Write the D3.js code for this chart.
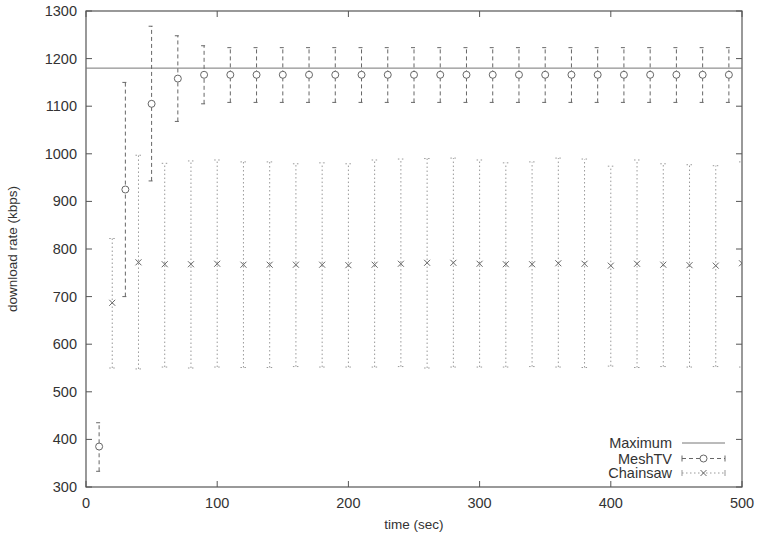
<!DOCTYPE html>
<html lang="en">
  <head>
    <meta charset="UTF-8" />
    <title>download rate</title>
    <script src="https://cdn.jsdelivr.net/npm/d3@7"></script>
    <style>
      body {
        margin: 0;
        padding: 0;
        background: #fff;
      }
      text {
        font-family: "Liberation Sans", Arial, sans-serif;
        fill: #333;
      }
    </style>
  </head>
  <body>
    <svg id="chart"></svg>

    <script>
      // MeshTV: mean and min/max per sample (kbps)
      const meshTime = [10, 30, 50, 70, 90, 110, 130, 150, 170, 190, 210, 230, 250,
        270, 290, 310, 330, 350, 370, 390, 410, 430, 450, 470, 490];
      const meshMean = [385, 925, 1105, 1158, 1166, 1166, 1166, 1166, 1166, 1166, 1166,
        1166, 1166, 1166, 1166, 1166, 1166, 1166, 1166, 1166, 1166, 1166, 1166, 1166, 1166];
      const meshLow = [333, 700, 943, 1068, 1105, 1108, 1108, 1108, 1108, 1108, 1108,
        1108, 1108, 1108, 1108, 1108, 1108, 1108, 1108, 1108, 1108, 1108, 1108, 1108, 1108];
      const meshHigh = [435, 1150, 1268, 1248, 1227, 1223, 1223, 1223, 1223, 1223, 1223,
        1223, 1223, 1223, 1223, 1223, 1223, 1223, 1223, 1223, 1223, 1223, 1223, 1223, 1223];

      // Chainsaw
      const chainTime = [20, 40, 60, 80, 100, 120, 140, 160, 180, 200, 220, 240, 260,
        280, 300, 320, 340, 360, 380, 400, 420, 440, 460, 480, 500];
      const chainMean = [687, 772, 768, 768, 769, 767, 767, 767, 767, 766, 767, 769, 771,
        771, 769, 768, 768, 770, 769, 765, 769, 767, 766, 765, 770];
      const chainLow = [550, 548, 552, 550, 552, 551, 551, 553, 552, 552, 552, 553, 550,
        552, 552, 552, 553, 552, 551, 554, 551, 553, 552, 553, 552];
      const chainHigh = [822, 997, 980, 985, 987, 983, 983, 979, 981, 979, 987, 989, 990,
        991, 987, 981, 983, 991, 989, 974, 987, 979, 977, 975, 983];

      const maximum = 1180;

      const xTicks = [0, 100, 200, 300, 400, 500];
      const yTicks = [300, 400, 500, 600, 700, 800, 900, 1000, 1100, 1200, 1300];

      const W = 758, H = 540;
      const m = { left: 86, right: 16, top: 11, bottom: 53 };

      const svg = d3.select("#chart").attr("width", W).attr("height", H);

      const x = d3.scaleLinear().domain([0, 500]).range([m.left, W - m.right]);
      const y = d3.scaleLinear().domain([300, 1300]).range([H - m.bottom, m.top]);

      const axisColor = "#555";
      const fs = "14.5px";
      const g = svg.append("g");

      // ticks drawn inward on all four sides
      const tickLen = 6;
      xTicks.forEach((t) => {
        g.append("line").attr("x1", x(t)).attr("x2", x(t))
          .attr("y1", y(300)).attr("y2", y(300) - tickLen).attr("stroke", axisColor);
        g.append("line").attr("x1", x(t)).attr("x2", x(t))
          .attr("y1", y(1300)).attr("y2", y(1300) + tickLen).attr("stroke", axisColor);
        g.append("text").attr("x", x(t)).attr("y", y(300) + 21)
          .attr("text-anchor", "middle").attr("font-size", fs).text(t);
      });
      yTicks.forEach((t) => {
        g.append("line").attr("x1", x(0)).attr("x2", x(0) + tickLen)
          .attr("y1", y(t)).attr("y2", y(t)).attr("stroke", axisColor);
        g.append("line").attr("x1", x(500)).attr("x2", x(500) - tickLen)
          .attr("y1", y(t)).attr("y2", y(t)).attr("stroke", axisColor);
        g.append("text").attr("x", x(0) - 9).attr("y", y(t) + 5)
          .attr("text-anchor", "end").attr("font-size", fs).text(t);
      });

      g.append("rect")
        .attr("x", x(0)).attr("y", y(1300))
        .attr("width", x(500) - x(0)).attr("height", y(300) - y(1300))
        .attr("fill", "none").attr("stroke", axisColor).attr("stroke-width", 1.2);

      // axis titles
      svg.append("text").attr("x", (x(0) + x(500)) / 2).attr("y", H - 11)
        .attr("text-anchor", "middle").attr("font-size", "13.5px").text("time (sec)");
      svg.append("text")
        .attr("transform", `translate(17,${(y(300) + y(1300)) / 2}) rotate(-90)`)
        .attr("text-anchor", "middle").attr("font-size", "13.5px").text("download rate (kbps)");

      // Maximum line
      g.append("line").attr("x1", x(0)).attr("x2", x(500))
        .attr("y1", y(maximum)).attr("y2", y(maximum))
        .attr("stroke", "#777").attr("stroke-width", 1);

      svg.append("clipPath").attr("id", "clip")
        .append("rect").attr("x", x(0)).attr("y", y(1300))
        .attr("width", x(500) - x(0)).attr("height", y(300) - y(1300));

      const plot = svg.append("g").attr("clip-path", "url(#clip)");

      function errorBars(times, mean, low, high, color, dash, capW) {
        const data = times.map((t, i) => ({ t, mean: mean[i], low: low[i], high: high[i] }));
        const grp = plot.append("g");
        grp.selectAll(".bar").data(data).enter().append("line")
          .attr("x1", (d) => x(d.t)).attr("x2", (d) => x(d.t))
          .attr("y1", (d) => y(d.low)).attr("y2", (d) => y(d.high))
          .attr("stroke", color).attr("stroke-dasharray", dash);
        ["low", "high"].forEach((k) => {
          grp.selectAll(".cap" + k).data(data).enter().append("line")
            .attr("x1", (d) => x(d.t) - capW).attr("x2", (d) => x(d.t) + capW)
            .attr("y1", (d) => y(d[k])).attr("y2", (d) => y(d[k]))
            .attr("stroke", color).attr("stroke-dasharray", dash);
        });
        return { grp, data };
      }

      const mesh = errorBars(meshTime, meshMean, meshLow, meshHigh, "#666", "4,3", 3);
      mesh.grp.selectAll("circle").data(mesh.data).enter().append("circle")
        .attr("cx", (d) => x(d.t)).attr("cy", (d) => y(d.mean)).attr("r", 3.5)
        .attr("fill", "#fff").attr("stroke", "#666");

      const chain = errorBars(chainTime, chainMean, chainLow, chainHigh, "#999", "1.5,2.5", 3);
      chain.grp.selectAll(".cross").data(chain.data).enter().append("path")
        .attr("d", (d) => {
          const cx = x(d.t), cy = y(d.mean), s = 3;
          return `M${cx - s},${cy - s}L${cx + s},${cy + s}M${cx - s},${cy + s}L${cx + s},${cy - s}`;
        })
        .attr("stroke", "#666").attr("stroke-width", 1);

      // legend
      const lg = svg.append("g");
      const lx = 672, ly = [443, 458.5, 473];
      const names = ["Maximum", "MeshTV", "Chainsaw"];
      names.forEach((n, i) => {
        lg.append("text").attr("x", lx).attr("y", ly[i] + 5)
          .attr("text-anchor", "end").attr("font-size", fs).text(n);
      });
      lg.append("line").attr("x1", 682).attr("x2", 725).attr("y1", ly[0]).attr("y2", ly[0])
        .attr("stroke", "#777");
      [[1, "#666", "4,3"], [2, "#999", "1.5,2.5"]].forEach(([i, c, d]) => {
        lg.append("line").attr("x1", 682).attr("x2", 725).attr("y1", ly[i]).attr("y2", ly[i])
          .attr("stroke", c).attr("stroke-dasharray", d);
        [682, 725].forEach((px) => {
          lg.append("line").attr("x1", px).attr("x2", px)
            .attr("y1", ly[i] - 3).attr("y2", ly[i] + 3).attr("stroke", c);
        });
      });
      lg.append("circle").attr("cx", 703.5).attr("cy", ly[1]).attr("r", 3.5)
        .attr("fill", "#fff").attr("stroke", "#666");
      lg.append("path")
        .attr("d", `M700.5,${ly[2] - 3}L706.5,${ly[2] + 3}M700.5,${ly[2] + 3}L706.5,${ly[2] - 3}`)
        .attr("stroke", "#666");
    </script>
  </body>
</html>
